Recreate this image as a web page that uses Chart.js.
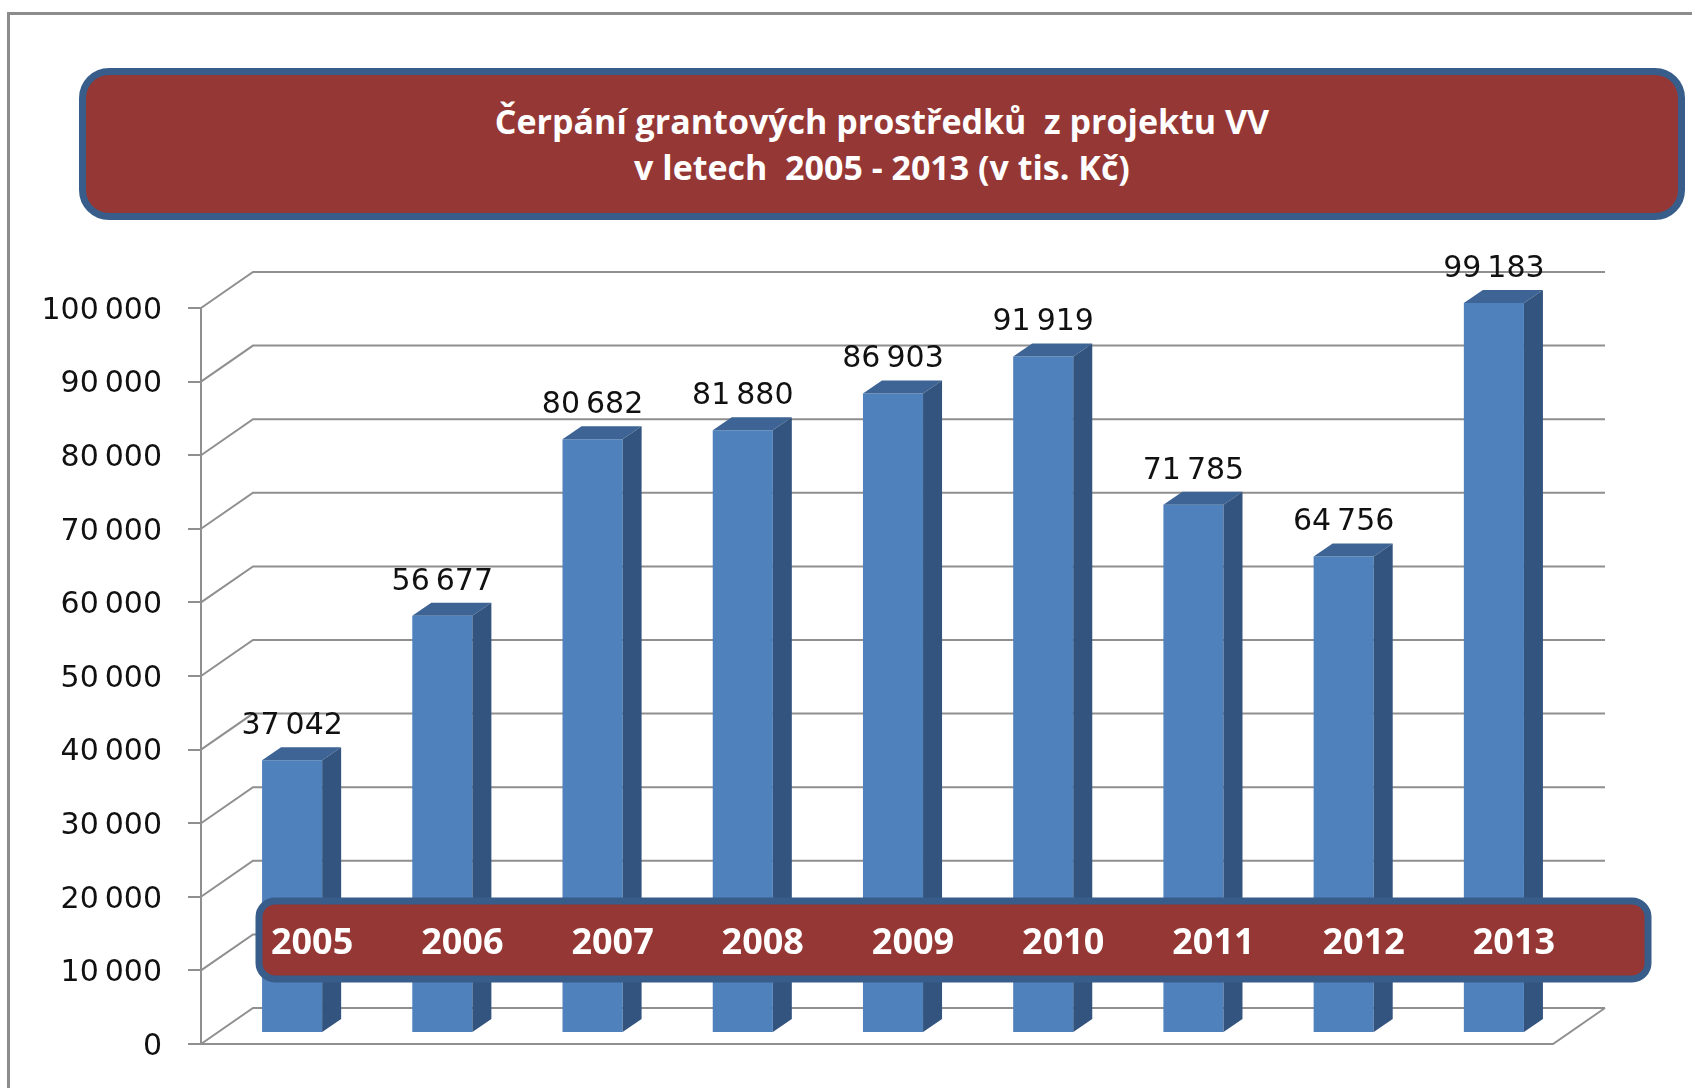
<!DOCTYPE html>
<html lang="cs">
<head>
<meta charset="UTF-8">
<title>Čerpání grantových prostředků</title>
<script src="https://cdn.jsdelivr.net/npm/chart.js"></script>
<style>
  body { margin: 0; width: 1692px; height: 1088px; overflow: hidden; background: #fff; position: relative; }
  #frame { position: absolute; left: 7px; top: 12px; width: 1800px; height: 1200px;
           border-left: 3px solid #8c8c8c; border-top: 3px solid #8c8c8c; }
  #title { position: absolute; left: 79px; top: 68px; width: 1606px; height: 152px; box-sizing: border-box;
           border: 7px solid #385d8a; border-radius: 30px; background: #953735; color: #fff;
           font: bold 34px "Open Sans", sans-serif; text-align: center; line-height: 46px; white-space: pre;
           display: flex; flex-direction: column; justify-content: center; }
  canvas { position: absolute; left: 0; top: 0; }
</style>
</head>
<body>
<div id="frame"></div>
<canvas id="chart" width="1692" height="1088"></canvas>
<div id="title"><span>Čerpání grantových prostředků  z projektu VV</span><span>v letech  2005 - 2013 (v tis. Kč)</span></div>

<script>
// data
const years = ['2005', '2006', '2007', '2008', '2009', '2010', '2011', '2012', '2013'];
const amounts = [37042, 56677, 80682, 81880, 86903, 91919, 71785, 64756, 99183];
const yMax = 100000;
const yStep = 10000;

// fake 3d offsets
const WALL = { dx: 52, dy: -36 };
const BAR_SHIFT = { dx: 16, dy: -11 };
const BAR_DEPTH = { dx: 19, dy: -13 };
const gridColor = '#8f8f8f';

function fmt(v) {
    return String(v).replace(/\B(?=(\d{3})+(?!\d))/g, '\u2009');
}

const depthPlugin = {
    id: 'depth',
    beforeDatasetsDraw(chart) {
        const { ctx, chartArea: a, scales: { y } } = chart;
        ctx.save();
        ctx.strokeStyle = gridColor;
        ctx.lineWidth = 2;
        y.ticks.forEach(t => {
            const py = y.getPixelForValue(t.value);
            ctx.beginPath();
            ctx.moveTo(a.left, py);
            ctx.lineTo(a.left + WALL.dx, py + WALL.dy);
            ctx.lineTo(a.right + WALL.dx, py + WALL.dy);
            ctx.stroke();
        });
        // floor front edge
        const p0 = y.getPixelForValue(0);
        ctx.beginPath();
        ctx.moveTo(a.left - 13, p0);
        ctx.lineTo(a.right, p0);
        ctx.lineTo(a.right + WALL.dx, p0 + WALL.dy);
        ctx.stroke();
        ctx.restore();

        // bars sit in the middle of the depth
        ctx.save();
        ctx.translate(BAR_SHIFT.dx, BAR_SHIFT.dy);
    },
    afterDatasetsDraw(chart) {
        const { ctx, scales: { x } } = chart;
        const bars = chart.getDatasetMeta(0).data;
        bars.forEach(bar => {
            const l = bar.x - bar.width / 2, r = bar.x + bar.width / 2;
            const t = bar.y, b = bar.base;
            // top face
            ctx.fillStyle = '#3d6494';
            ctx.beginPath();
            ctx.moveTo(l, t);
            ctx.lineTo(l + BAR_DEPTH.dx, t + BAR_DEPTH.dy);
            ctx.lineTo(r + BAR_DEPTH.dx, t + BAR_DEPTH.dy);
            ctx.lineTo(r, t);
            ctx.closePath();
            ctx.fill();
            // side face
            ctx.fillStyle = '#33547e';
            ctx.beginPath();
            ctx.moveTo(r, t);
            ctx.lineTo(r + BAR_DEPTH.dx, t + BAR_DEPTH.dy);
            ctx.lineTo(r + BAR_DEPTH.dx, b + BAR_DEPTH.dy);
            ctx.lineTo(r, b);
            ctx.closePath();
            ctx.fill();
        });
        ctx.restore();

        // value labels
        ctx.save();
        ctx.fillStyle = '#111';
        ctx.font = '30px "DejaVu Sans"';
        ctx.textAlign = 'center';
        ctx.textBaseline = 'alphabetic';
        bars.forEach((bar, i) => {
            ctx.fillText(fmt(amounts[i]), bar.x + BAR_SHIFT.dx, bar.y + BAR_SHIFT.dy - 26);
        });

        // year band across the bars
        ctx.beginPath();
        ctx.roundRect(259, 901, 1389, 78, 16);
        ctx.fillStyle = '#953735';
        ctx.fill();
        ctx.lineWidth = 7;
        ctx.strokeStyle = '#385d8a';
        ctx.stroke();

        ctx.fillStyle = '#fff';
        ctx.font = 'bold 36px "Open Sans"';
        ctx.textBaseline = 'middle';
        years.forEach((yr, i) => {
            ctx.fillText(yr, x.getPixelForValue(i) + BAR_SHIFT.dx + 20, 944);
        });
        ctx.restore();
    }
};

new Chart(document.getElementById('chart'), {
    type: 'bar',
    data: {
        labels: years,
        datasets: [{
            data: amounts,
            backgroundColor: '#4f81bd',
            borderWidth: 0,
            barPercentage: 0.4,
            categoryPercentage: 1,
            clip: false
        }]
    },
    options: {
        responsive: false,
        animation: false,
        layout: { padding: { left: 41, right: 139, top: 308, bottom: 33 } },
        plugins: { legend: { display: false }, tooltip: { enabled: false } },
        scales: {
            x: { display: false, offset: true },
            y: {
                min: 0,
                max: yMax,
                ticks: {
                    stepSize: yStep,
                    padding: 26,
                    labelOffset: 3,
                    color: '#111',
                    font: { family: 'DejaVu Sans', size: 30 },
                    callback: v => fmt(v)
                },
                grid: { drawOnChartArea: false, tickLength: 13, color: gridColor, lineWidth: 2 },
                border: { display: true, color: gridColor, width: 2 },
                afterFit: s => { s.width = 160; }
            }
        }
    },
    plugins: [depthPlugin]
});
</script>
</body>
</html>
